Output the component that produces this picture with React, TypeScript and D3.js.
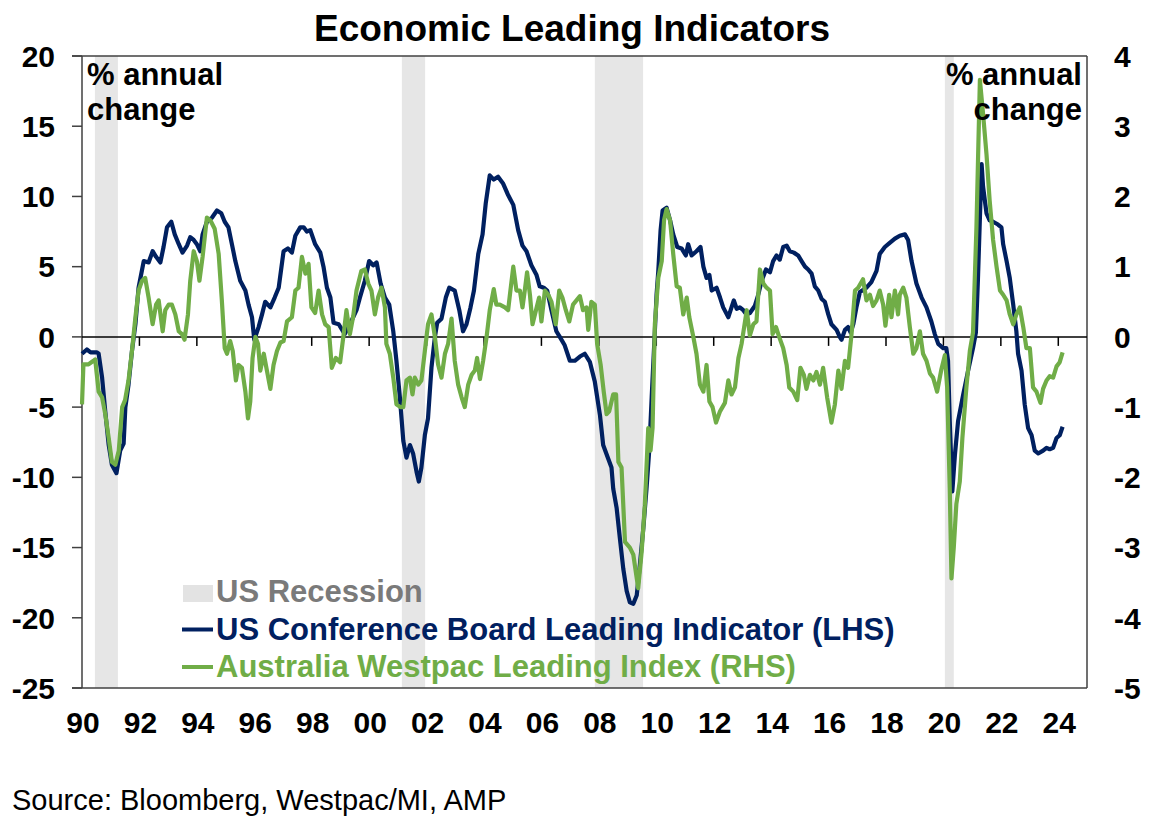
import React from "react";
import * as d3 from "d3";

// ---- Data ----
// [decimal year, % annual change]  US Conference Board Leading Indicator (LHS)
const usSeries: [number, number][] = [
  [1990.0, -1.2], [1990.17, -0.9], [1990.3, -1.1], [1990.52, -1.1], [1990.58, -1.2], [1990.7, -2.9],
  [1990.81, -5.3], [1990.93, -7.7], [1991.04, -9.1], [1991.2, -9.7], [1991.33, -8.1], [1991.45, -7.6],
  [1991.51, -5.0], [1991.62, -3.4], [1991.74, -1.0], [1991.86, 0.9], [1991.97, 3.5], [1992.15, 5.4],
  [1992.32, 5.3], [1992.46, 6.1], [1992.58, 5.7], [1992.73, 5.3], [1992.84, 6.4], [1992.96, 7.8],
  [1993.11, 8.2], [1993.23, 7.3], [1993.37, 6.6], [1993.5, 6.0], [1993.66, 6.5], [1993.77, 7.1],
  [1993.89, 6.9], [1994.0, 6.6], [1994.12, 6.1], [1994.2, 7.3], [1994.35, 8.2], [1994.53, 8.5],
  [1994.7, 9.0], [1994.85, 8.8], [1994.97, 8.2], [1995.1, 7.8], [1995.22, 6.6], [1995.34, 5.4],
  [1995.51, 4.0], [1995.69, 3.3], [1995.8, 2.3], [1995.92, 1.4], [1996.0, -0.2], [1996.15, 0.7],
  [1996.27, 1.6], [1996.38, 2.5], [1996.56, 2.1], [1996.71, 2.8], [1996.85, 3.5], [1997.02, 6.1],
  [1997.17, 6.3], [1997.31, 6.0], [1997.43, 7.2], [1997.6, 7.8], [1997.72, 7.8], [1997.83, 7.5],
  [1997.95, 7.6], [1998.12, 6.6], [1998.3, 6.0], [1998.41, 5.0], [1998.53, 3.5], [1998.65, 2.8],
  [1998.76, 1.0], [1998.94, 0.9], [1999.15, 0.2], [1999.33, 0.9], [1999.56, 1.9], [1999.68, 2.8],
  [1999.85, 4.0], [2000.0, 5.4], [2000.14, 5.1], [2000.26, 5.3], [2000.4, 3.8], [2000.55, 2.8],
  [2000.7, 2.3], [2000.84, 0.4], [2000.95, -1.7], [2001.07, -4.3], [2001.19, -7.4], [2001.3, -8.6],
  [2001.42, -7.7], [2001.53, -8.3], [2001.65, -9.6], [2001.73, -10.3], [2001.82, -9.3], [2001.94, -7.0],
  [2002.05, -5.8], [2002.17, -2.2], [2002.29, 0.0], [2002.37, 1.0], [2002.52, 1.3], [2002.67, 2.8],
  [2002.79, 3.5], [2002.98, 3.3], [2003.14, 1.9], [2003.27, 0.4], [2003.39, 0.9], [2003.53, 2.1],
  [2003.65, 3.3], [2003.8, 5.9], [2003.95, 7.3], [2004.06, 9.5], [2004.2, 11.5], [2004.34, 11.2],
  [2004.49, 11.4], [2004.67, 10.9], [2004.84, 10.1], [2005.02, 9.4], [2005.19, 7.6], [2005.34, 6.5],
  [2005.48, 6.1], [2005.65, 5.1], [2005.83, 4.4], [2005.94, 3.6], [2006.08, 3.5], [2006.2, 3.3],
  [2006.35, 1.9], [2006.52, 0.4], [2006.64, 0.0], [2006.81, -0.6], [2006.99, -1.7], [2007.16, -1.7],
  [2007.34, -1.4], [2007.51, -1.2], [2007.69, -1.8], [2007.86, -3.2], [2008.04, -5.6], [2008.15, -7.7],
  [2008.33, -8.7], [2008.44, -9.3], [2008.5, -10.8], [2008.62, -12.2], [2008.73, -14.3], [2008.85, -16.5],
  [2008.97, -18.1], [2009.08, -18.9], [2009.2, -19.0], [2009.32, -18.4], [2009.43, -16.2], [2009.55, -13.6],
  [2009.66, -10.8], [2009.76, -7.9], [2009.84, -4.3], [2009.95, 0.4], [2010.01, 3.0], [2010.07, 4.7],
  [2010.15, 7.6], [2010.22, 9.0], [2010.36, 9.2], [2010.48, 8.3], [2010.59, 7.3], [2010.73, 6.4],
  [2010.88, 6.3], [2011.03, 5.8], [2011.11, 6.6], [2011.23, 5.8], [2011.4, 6.1], [2011.54, 6.4],
  [2011.64, 5.0], [2011.75, 4.2], [2011.85, 4.4], [2011.93, 3.3], [2012.1, 3.5], [2012.22, 2.8],
  [2012.33, 2.1], [2012.51, 1.4], [2012.62, 2.1], [2012.7, 2.6], [2012.8, 2.0], [2012.91, 2.1],
  [2013.03, 1.9], [2013.14, 1.6], [2013.26, 1.7], [2013.43, 2.2], [2013.55, 3.0], [2013.67, 4.0],
  [2013.82, 4.8], [2013.96, 4.6], [2014.07, 5.4], [2014.19, 5.8], [2014.3, 5.5], [2014.42, 6.4],
  [2014.54, 6.5], [2014.65, 6.1], [2014.79, 6.0], [2014.94, 5.8], [2015.06, 5.4], [2015.18, 5.0],
  [2015.29, 4.8], [2015.41, 4.5], [2015.52, 3.6], [2015.64, 3.3], [2015.76, 2.7], [2015.87, 2.5],
  [2015.99, 1.6], [2016.1, 0.9], [2016.28, 0.5], [2016.39, 0.0], [2016.45, -0.2], [2016.57, 0.5],
  [2016.68, 0.7], [2016.77, 0.3], [2016.86, 0.9], [2016.97, 2.1], [2017.09, 3.2], [2017.32, 3.5],
  [2017.49, 3.9], [2017.67, 4.7], [2017.78, 5.9], [2017.96, 6.4], [2018.13, 6.7], [2018.31, 7.0],
  [2018.48, 7.2], [2018.66, 7.3], [2018.77, 6.9], [2018.89, 5.4], [2019.06, 3.8], [2019.24, 2.8],
  [2019.41, 2.1], [2019.58, 1.1], [2019.7, 0.2], [2019.82, -0.5], [2019.99, -0.8], [2020.1, -0.8],
  [2020.16, -1.7], [2020.22, -6.0], [2020.31, -11.0], [2020.4, -8.4], [2020.51, -6.0], [2020.69, -4.1],
  [2020.86, -2.4], [2021.03, -0.8], [2021.13, 0.3], [2021.2, 4.0], [2021.33, 12.3], [2021.38, 10.7],
  [2021.5, 8.8], [2021.61, 8.3], [2021.73, 8.2], [2021.9, 8.0], [2022.02, 7.8], [2022.08, 6.6],
  [2022.2, 5.4], [2022.31, 4.2], [2022.43, 2.3], [2022.54, 0.4], [2022.6, -1.2], [2022.72, -2.4],
  [2022.83, -4.8], [2022.95, -6.5], [2023.07, -7.0], [2023.18, -8.1], [2023.3, -8.3], [2023.47, -8.1],
  [2023.59, -7.9], [2023.7, -8.0], [2023.82, -7.9], [2023.94, -7.2], [2024.05, -7.0], [2024.15, -6.4],
];

// [decimal year, % annual change]  Australia Westpac Leading Index (RHS)
const ausSeries: [number, number][] = [
  [1990.0, -0.96], [1990.05, -0.39], [1990.23, -0.39], [1990.4, -0.34], [1990.46, -0.32], [1990.58, -0.78],
  [1990.7, -0.86], [1990.81, -1.1], [1990.93, -1.44], [1991.04, -1.78], [1991.16, -1.82], [1991.28, -1.62],
  [1991.4, -1.0], [1991.5, -0.9], [1991.62, -0.62], [1991.74, -0.2], [1991.86, 0.28], [1991.97, 0.66],
  [1992.09, 0.8], [1992.2, 0.84], [1992.32, 0.56], [1992.46, 0.18], [1992.58, 0.46], [1992.67, 0.52],
  [1992.81, 0.08], [1992.9, 0.38], [1993.02, 0.46], [1993.13, 0.46], [1993.25, 0.32], [1993.37, 0.08],
  [1993.48, 0.04], [1993.57, -0.04], [1993.69, 0.32], [1993.77, 0.8], [1993.89, 1.22], [1994.0, 1.08],
  [1994.09, 0.8], [1994.2, 1.14], [1994.35, 1.7], [1994.47, 1.66], [1994.62, 1.54], [1994.76, 1.18],
  [1994.87, 0.52], [1994.97, -0.16], [1995.05, -0.24], [1995.16, -0.06], [1995.25, -0.2], [1995.36, -0.62],
  [1995.45, -0.4], [1995.57, -0.44], [1995.69, -0.78], [1995.78, -1.16], [1995.86, -0.92], [1995.94, -0.3],
  [1996.04, 0.0], [1996.13, -0.1], [1996.21, -0.48], [1996.33, -0.24], [1996.44, -0.48], [1996.56, -0.74],
  [1996.67, -0.4], [1996.79, -0.2], [1996.91, -0.08], [1997.02, -0.06], [1997.14, 0.22], [1997.31, 0.28],
  [1997.43, 0.66], [1997.54, 0.7], [1997.66, 1.14], [1997.78, 0.9], [1997.89, 1.04], [1997.99, 0.42],
  [1998.12, 0.34], [1998.24, 0.66], [1998.36, 0.32], [1998.47, 0.18], [1998.59, 0.14], [1998.7, -0.44],
  [1998.84, -0.3], [1998.99, -0.36], [1999.1, 0.0], [1999.21, 0.38], [1999.33, 0.04], [1999.44, 0.28],
  [1999.56, 0.66], [1999.73, 0.94], [1999.85, 0.96], [1999.97, 0.76], [2000.08, 0.66], [2000.2, 0.32],
  [2000.31, 0.56], [2000.43, 0.7], [2000.55, 0.42], [2000.6, -0.1], [2000.72, -0.24], [2000.84, -0.58],
  [2000.95, -0.96], [2001.09, -1.0], [2001.19, -1.0], [2001.3, -0.62], [2001.42, -0.58], [2001.51, -0.82],
  [2001.59, -0.58], [2001.71, -0.68], [2001.82, -0.62], [2001.94, -0.2], [2002.05, 0.18], [2002.17, 0.32],
  [2002.29, 0.0], [2002.4, -0.39], [2002.52, -0.58], [2002.64, -0.24], [2002.75, -0.1], [2002.87, 0.26],
  [2002.98, -0.34], [2003.1, -0.68], [2003.22, -0.86], [2003.33, -1.0], [2003.45, -0.68], [2003.57, -0.54],
  [2003.68, -0.48], [2003.76, -0.3], [2003.86, -0.6], [2003.97, -0.34], [2004.09, 0.0], [2004.2, 0.38],
  [2004.34, 0.68], [2004.43, 0.46], [2004.55, 0.46], [2004.73, 0.42], [2004.84, 0.38], [2004.92, 0.66],
  [2005.02, 1.0], [2005.13, 0.66], [2005.25, 0.66], [2005.34, 0.42], [2005.42, 0.66], [2005.5, 0.92],
  [2005.6, 0.6], [2005.69, 0.18], [2005.81, 0.38], [2005.92, 0.56], [2006.0, 0.22], [2006.12, 0.66],
  [2006.24, 0.6], [2006.35, 0.5], [2006.5, 0.18], [2006.62, 0.66], [2006.73, 0.56], [2006.85, 0.38],
  [2006.97, 0.22], [2007.1, 0.46], [2007.22, 0.52], [2007.34, 0.58], [2007.45, 0.38], [2007.57, 0.42],
  [2007.63, 0.1], [2007.74, 0.5], [2007.86, 0.46], [2007.94, -0.1], [2008.06, -0.39], [2008.17, -0.78],
  [2008.27, -1.1], [2008.36, -1.06], [2008.5, -0.82], [2008.6, -0.82], [2008.68, -1.78], [2008.79, -1.86],
  [2008.91, -2.92], [2009.08, -3.0], [2009.2, -3.1], [2009.37, -3.58], [2009.49, -3.06], [2009.6, -2.4],
  [2009.72, -1.3], [2009.8, -1.62], [2009.87, -1.3], [2009.95, 0.18], [2010.07, 0.84], [2010.19, 1.08],
  [2010.27, 1.66], [2010.36, 1.82], [2010.48, 1.66], [2010.59, 1.18], [2010.71, 0.72], [2010.82, 0.7],
  [2010.94, 0.32], [2011.06, 0.56], [2011.15, 0.28], [2011.29, 0.0], [2011.4, -0.24], [2011.52, -0.68],
  [2011.64, -0.78], [2011.75, -0.4], [2011.85, -0.92], [2011.96, -1.0], [2012.08, -1.22], [2012.22, -1.06],
  [2012.39, -0.94], [2012.51, -0.62], [2012.62, -0.82], [2012.74, -0.72], [2012.86, -0.3], [2012.97, -0.1],
  [2013.15, 0.38], [2013.26, 0.02], [2013.38, 0.18], [2013.49, 0.22], [2013.61, 0.96], [2013.73, 0.76],
  [2013.84, 0.7], [2013.96, 0.66], [2014.05, 0.04], [2014.17, 0.14], [2014.28, 0.0], [2014.42, -0.16],
  [2014.54, -0.4], [2014.63, -0.72], [2014.77, -0.78], [2014.91, -0.9], [2015.02, -0.44], [2015.14, -0.54],
  [2015.23, -0.74], [2015.35, -0.54], [2015.47, -0.62], [2015.58, -0.5], [2015.7, -0.68], [2015.81, -0.44],
  [2015.95, -0.86], [2016.1, -1.22], [2016.22, -0.96], [2016.34, -0.48], [2016.45, -0.74], [2016.57, -0.34],
  [2016.68, -0.44], [2016.8, 0.04], [2016.92, 0.66], [2017.03, 0.7], [2017.2, 0.82], [2017.32, 0.52],
  [2017.44, 0.6], [2017.55, 0.44], [2017.67, 0.52], [2017.78, 0.66], [2017.9, 0.46], [2017.98, 0.16],
  [2018.11, 0.6], [2018.19, 0.28], [2018.31, 0.66], [2018.42, 0.32], [2018.48, 0.6], [2018.6, 0.7],
  [2018.71, 0.56], [2018.83, 0.14], [2018.95, -0.24], [2019.06, -0.16], [2019.18, 0.08], [2019.29, -0.24],
  [2019.41, -0.34], [2019.53, -0.52], [2019.64, -0.58], [2019.78, -0.78], [2019.93, -0.46], [2020.05, -0.26],
  [2020.13, -0.72], [2020.22, -2.16], [2020.28, -3.44], [2020.36, -3.0], [2020.45, -2.38], [2020.57, -2.06],
  [2020.66, -1.44], [2020.8, -0.72], [2020.92, -0.2], [2021.03, 0.06], [2021.15, 1.56], [2021.27, 3.66],
  [2021.38, 3.18], [2021.5, 2.6], [2021.61, 1.94], [2021.73, 1.38], [2021.85, 1.0], [2021.97, 0.66],
  [2022.08, 0.6], [2022.2, 0.52], [2022.31, 0.32], [2022.43, 0.18], [2022.54, 0.32], [2022.66, 0.42],
  [2022.78, 0.14], [2022.89, -0.16], [2023.01, -0.16], [2023.12, -0.72], [2023.24, -0.78], [2023.38, -0.94],
  [2023.47, -0.74], [2023.59, -0.62], [2023.7, -0.56], [2023.82, -0.58], [2023.94, -0.42], [2024.05, -0.36],
  [2024.15, -0.22],
];

// US recession periods (decimal years)
const recessions: [number, number][] = [
  [1990.45, 1991.25],
  [2001.14, 2001.95],
  [2007.86, 2009.54],
  [2020.05, 2020.36],
];

const xTickYears = d3.range(1990, 2025, 2);
const leftTicks = [20, 15, 10, 5, 0, -5, -10, -15, -20, -25];
const rightTicks = [4, 3, 2, 1, 0, -1, -2, -3, -4, -5];

const title = "Economic Leading Indicators";
const unitLabel = ["% annual", "change"];
const legendItems = [
  { label: "US Recession", color: "#7a7a7a", kind: "box" },
  { label: "US Conference Board Leading Indicator (LHS)", color: "#002060", kind: "line" },
  { label: "Australia Westpac Leading Index (RHS)", color: "#70AD47", kind: "line" },
];
const sourceText = "Source: Bloomberg, Westpac/MI, AMP";

// ---- Layout ----
const W = 1168;
const H = 832;
const left = 82;
const right = 1087;
const top = 56;
const bottom = 688;
const FONT = "'Liberation Sans', Arial, Helvetica, sans-serif";
const NAVY = "#002060";
const GREEN = "#70AD47";
const BAND = "#e6e6e6";
const AXIS = "#404040";

export default function App() {
  const x = d3.scaleLinear().domain([1990, 2025]).range([left, right]);
  const yL = d3.scaleLinear().domain([-25, 20]).range([bottom, top]);
  const yR = d3.scaleLinear().domain([-5, 4]).range([bottom, top]);

  const usLine = d3
    .line<[number, number]>()
    .x((d) => x(d[0]))
    .y((d) => yL(d[1]));
  const ausLine = d3
    .line<[number, number]>()
    .x((d) => x(d[0]))
    .y((d) => yR(d[1]));

  const zeroY = yL(0);

  return (
    <svg
      width={W}
      height={H}
      viewBox={`0 0 ${W} ${H}`}
      style={{ position: "absolute", left: 0, top: 0, background: "#fff" }}
      fontFamily={FONT}
    >
      <rect x={0} y={0} width={W} height={H} fill="#fff" />

      {/* recession bands */}
      {recessions.map(([a, b], i) => (
        <rect key={i} x={x(a)} y={top} width={x(b) - x(a)} height={bottom - top} fill={BAND} />
      ))}

      {/* frame */}
      <line x1={left - 10} x2={right} y1={top} y2={top} stroke={AXIS} strokeWidth={1.5} />
      <line x1={right} x2={right} y1={top} y2={bottom} stroke={AXIS} strokeWidth={1.5} />
      <line x1={left - 10} x2={right} y1={bottom} y2={bottom} stroke={AXIS} strokeWidth={1.5} />
      <line x1={left} x2={left} y1={top} y2={bottom} stroke={AXIS} strokeWidth={1.5} />

      {/* left ticks + labels */}
      {leftTicks.map((t) => (
        <g key={t}>
          <line x1={left - 10} x2={left} y1={yL(t)} y2={yL(t)} stroke={AXIS} strokeWidth={1.5} />
          <text
            x={55}
            y={yL(t)}
            dy="0.36em"
            textAnchor="end"
            fontSize={30}
            fontWeight="bold"
            fill="#000"
          >
            {t}
          </text>
        </g>
      ))}

      {/* right labels */}
      {rightTicks.map((t) => (
        <text
          key={t}
          x={1114}
          y={yR(t)}
          dy="0.36em"
          textAnchor="start"
          fontSize={30}
          fontWeight="bold"
          fill="#000"
        >
          {t}
        </text>
      ))}

      {/* zero line */}
      <line x1={left} x2={right} y1={zeroY} y2={zeroY} stroke="#000" strokeWidth={1.5} />
      {xTickYears
        .filter((yr) => yr > 1990)
        .map((yr) => (
          <line key={yr} x1={x(yr)} x2={x(yr)} y1={zeroY} y2={zeroY + 9} stroke="#000" strokeWidth={1.5} />
        ))}

      {/* x labels */}
      {xTickYears.map((yr) => (
        <text
          key={yr}
          x={x(yr) + 1}
          y={733}
          textAnchor="middle"
          fontSize={30}
          fontWeight="bold"
          fill="#000"
        >
          {String(yr % 100).padStart(2, "0")}
        </text>
      ))}

      {/* series */}
      <path d={usLine(usSeries) || ""} fill="none" stroke={NAVY} strokeWidth={4.2} strokeLinejoin="round" />
      <path d={ausLine(ausSeries) || ""} fill="none" stroke={GREEN} strokeWidth={4.2} strokeLinejoin="round" />

      {/* unit labels */}
      <text x={87} y={85} fontSize={31} fontWeight="bold" fill="#000">
        {unitLabel[0]}
      </text>
      <text x={87} y={120} fontSize={31} fontWeight="bold" fill="#000">
        {unitLabel[1]}
      </text>
      <text x={1082} y={85} fontSize={31} fontWeight="bold" fill="#000" textAnchor="end">
        {unitLabel[0]}
      </text>
      <text x={1082} y={120} fontSize={31} fontWeight="bold" fill="#000" textAnchor="end">
        {unitLabel[1]}
      </text>

      {/* legend */}
      {legendItems.map((item, i) => {
        const by = 602 + i * 37.5;
        return (
          <g key={item.label}>
            {item.kind === "box" ? (
              <rect x={183} y={by - 17} width={30} height={17} fill="#e3e3e3" />
            ) : (
              <line x1={182} x2={213} y1={by - 10} y2={by - 10} stroke={item.color} strokeWidth={4} />
            )}
            <text x={216} y={by} fontSize={31} fontWeight="bold" fill={item.color}>
              {item.label}
            </text>
          </g>
        );
      })}

      {/* title */}
      <text x={572} y={41} textAnchor="middle" fontSize={37} fontWeight="bold" fill="#000">
        {title}
      </text>

      {/* source */}
      <text x={12} y={810} fontSize={29} fill="#000">
        {sourceText}
      </text>
    </svg>
  );
}
